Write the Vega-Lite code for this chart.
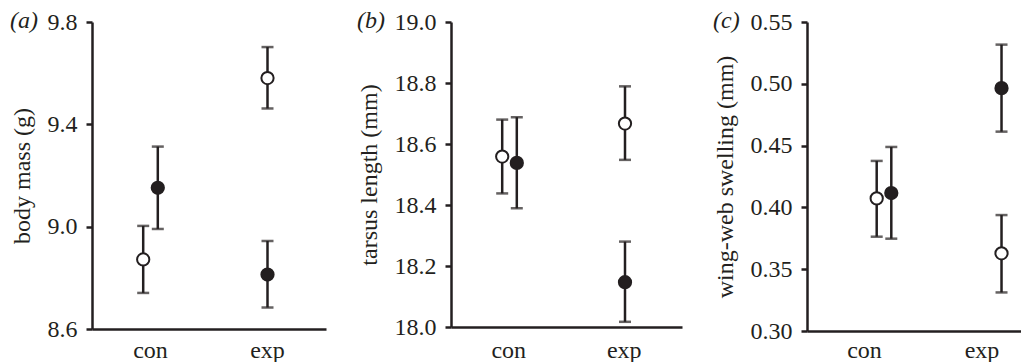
{
  "$schema": "https://vega.github.io/schema/vega-lite/v6.json",
  "background": "white",
  "padding": {"left": 10, "top": 9, "right": 0, "bottom": 0},
  "datasets": {
    "mass": [
      {"treatment": "con", "group": "open", "slot": "left", "mean": 8.872, "lo": 8.741, "hi": 9.003},
      {"treatment": "con", "group": "filled", "slot": "right", "mean": 9.152, "lo": 8.991, "hi": 9.313},
      {"treatment": "exp", "group": "open", "slot": "centre", "mean": 9.581, "lo": 9.462, "hi": 9.702},
      {"treatment": "exp", "group": "filled", "slot": "centre", "mean": 8.813, "lo": 8.684, "hi": 8.944}
    ],
    "tarsus": [
      {"treatment": "con", "group": "open", "slot": "left", "mean": 18.559, "lo": 18.438, "hi": 18.680},
      {"treatment": "con", "group": "filled", "slot": "right", "mean": 18.538, "lo": 18.389, "hi": 18.688},
      {"treatment": "exp", "group": "open", "slot": "centre", "mean": 18.667, "lo": 18.548, "hi": 18.789},
      {"treatment": "exp", "group": "filled", "slot": "centre", "mean": 18.147, "lo": 18.017, "hi": 18.280}
    ],
    "swelling": [
      {"treatment": "con", "group": "open", "slot": "left", "mean": 0.4073, "lo": 0.3763, "hi": 0.4376},
      {"treatment": "con", "group": "filled", "slot": "right", "mean": 0.4116, "lo": 0.3747, "hi": 0.4489},
      {"treatment": "exp", "group": "open", "slot": "centre", "mean": 0.3629, "lo": 0.3312, "hi": 0.3938},
      {"treatment": "exp", "group": "filled", "slot": "centre", "mean": 0.4965, "lo": 0.4613, "hi": 0.5317}
    ]
  },
  "bounds": "flush",
  "spacing": 125,
  "hconcat": [
    {
      "width": 234,
      "height": 307,
      "data": {"name": "mass"},
      "title": {"text": "(a)", "anchor": "start", "frame": "bounds", "fontStyle": "italic", "fontWeight": "normal", "fontSize": 24, "font": "Liberation Serif, Times New Roman, Times, serif", "color": "#231f20", "baseline": "middle", "offset": -35},
      "encoding": {
        "x": {"field": "treatment", "type": "nominal", "scale": {"type": "band", "domain": ["con", "exp"], "paddingInner": 0, "paddingOuter": 0}, "axis": {"title": null, "ticks": false, "labelAngle": 0, "labelPadding": 9}},
        "xOffset": {"field": "slot", "type": "nominal", "scale": {"type": "point", "domain": ["left", "centre", "right"], "range": [51.2, 65.8], "padding": 0}}
      },
      "layer": [
        {"mark": {"type": "rule", "strokeWidth": 2.5, "color": "#231f20"},
         "encoding": {"y": {"field": "lo", "type": "quantitative", "scale": {"domain": [8.6, 9.8], "nice": false, "zero": false}, "axis": {"title": "body mass (g)", "values": [8.6, 9.0, 9.4, 9.8], "format": ".1f"}}, "y2": {"field": "hi"}}},
        {"mark": {"type": "tick", "size": 12, "thickness": 2.5, "color": "#231f20"}, "encoding": {"y": {"field": "lo", "type": "quantitative"}}},
        {"mark": {"type": "tick", "size": 12, "thickness": 2.5, "color": "#231f20"}, "encoding": {"y": {"field": "hi", "type": "quantitative"}}},
        {"mark": {"type": "point", "shape": "circle", "filled": true, "size": 150, "stroke": "#231f20", "strokeWidth": 2, "opacity": 1},
         "encoding": {"y": {"field": "mean", "type": "quantitative"}, "fill": {"field": "group", "type": "nominal", "scale": {"domain": ["open", "filled"], "range": ["white", "#231f20"]}, "legend": null}}}
      ]
    },
    {
      "width": 231,
      "height": 305,
      "data": {"name": "tarsus"},
      "title": {"text": "(b)", "anchor": "start", "frame": "bounds", "fontStyle": "italic", "fontWeight": "normal", "fontSize": 24, "font": "Liberation Serif, Times New Roman, Times, serif", "color": "#231f20", "baseline": "middle", "offset": -35},
      "encoding": {
        "x": {"field": "treatment", "type": "nominal", "scale": {"type": "band", "domain": ["con", "exp"], "paddingInner": 0, "paddingOuter": 0}, "axis": {"title": null, "ticks": false, "labelAngle": 0, "labelPadding": 11}},
        "xOffset": {"field": "slot", "type": "nominal", "scale": {"type": "point", "domain": ["left", "centre", "right"], "range": [53.2, 67.8], "padding": 0}}
      },
      "layer": [
        {"mark": {"type": "rule", "strokeWidth": 2.5, "color": "#231f20"},
         "encoding": {"y": {"field": "lo", "type": "quantitative", "scale": {"domain": [18.0, 19.0], "nice": false, "zero": false}, "axis": {"title": "tarsus length (mm)", "values": [18.0, 18.2, 18.4, 18.6, 18.8, 19.0], "format": ".1f"}}, "y2": {"field": "hi"}}},
        {"mark": {"type": "tick", "size": 12, "thickness": 2.5, "color": "#231f20"}, "encoding": {"y": {"field": "lo", "type": "quantitative"}}},
        {"mark": {"type": "tick", "size": 12, "thickness": 2.5, "color": "#231f20"}, "encoding": {"y": {"field": "hi", "type": "quantitative"}}},
        {"mark": {"type": "point", "shape": "circle", "filled": true, "size": 150, "stroke": "#231f20", "strokeWidth": 2, "opacity": 1},
         "encoding": {"y": {"field": "mean", "type": "quantitative"}, "fill": {"field": "group", "type": "nominal", "scale": {"domain": ["open", "filled"], "range": ["white", "#231f20"]}, "legend": null}}}
      ]
    },
    {
      "width": 214,
      "height": 309,
      "data": {"name": "swelling"},
      "title": {"text": "(c)", "anchor": "start", "frame": "bounds", "fontStyle": "italic", "fontWeight": "normal", "fontSize": 24, "font": "Liberation Serif, Times New Roman, Times, serif", "color": "#231f20", "baseline": "middle", "offset": -35},
      "encoding": {
        "x": {"field": "treatment", "type": "nominal", "scale": {"type": "band", "domain": ["con", "exp"], "paddingInner": 0.3364, "paddingOuter": 0.0787, "align": 1}, "axis": {"title": null, "ticks": false, "labelAngle": 0, "labelPadding": 7}},
        "xOffset": {"field": "slot", "type": "nominal", "scale": {"type": "point", "domain": ["left", "centre", "right"], "range": [31.7, 46.3], "padding": 0}}
      },
      "layer": [
        {"mark": {"type": "rule", "strokeWidth": 2.5, "color": "#231f20"},
         "encoding": {"y": {"field": "lo", "type": "quantitative", "scale": {"domain": [0.3, 0.55], "nice": false, "zero": false}, "axis": {"title": "wing-web swelling (mm)", "values": [0.3, 0.35, 0.4, 0.45, 0.5, 0.55], "format": ".2f"}}, "y2": {"field": "hi"}}},
        {"mark": {"type": "tick", "size": 12, "thickness": 2.5, "color": "#231f20"}, "encoding": {"y": {"field": "lo", "type": "quantitative"}}},
        {"mark": {"type": "tick", "size": 12, "thickness": 2.5, "color": "#231f20"}, "encoding": {"y": {"field": "hi", "type": "quantitative"}}},
        {"mark": {"type": "point", "shape": "circle", "filled": true, "size": 150, "stroke": "#231f20", "strokeWidth": 2, "opacity": 1},
         "encoding": {"y": {"field": "mean", "type": "quantitative"}, "fill": {"field": "group", "type": "nominal", "scale": {"domain": ["open", "filled"], "range": ["white", "#231f20"]}, "legend": null}}}
      ]
    }
  ],
  "resolve": {"scale": {"fill": "independent"}},
  "config": {
    "view": {"stroke": null},
    "font": "Liberation Serif, Times New Roman, Times, serif",
    "axis": {"labelFont": "Liberation Serif, Times New Roman, Times, serif", "labelFontSize": 24, "labelColor": "#231f20", "titleFont": "Liberation Serif, Times New Roman, Times, serif", "titleFontSize": 24, "titleFontWeight": "normal", "titleColor": "#231f20", "domainColor": "#231f20", "domainWidth": 2.5, "tickColor": "#231f20", "tickWidth": 2.5, "grid": false},
    "axisY": {"tickSize": 6, "labelPadding": 9, "titlePadding": 13},
    "axisX": {"domainWidth": 2.5}
  }
}
